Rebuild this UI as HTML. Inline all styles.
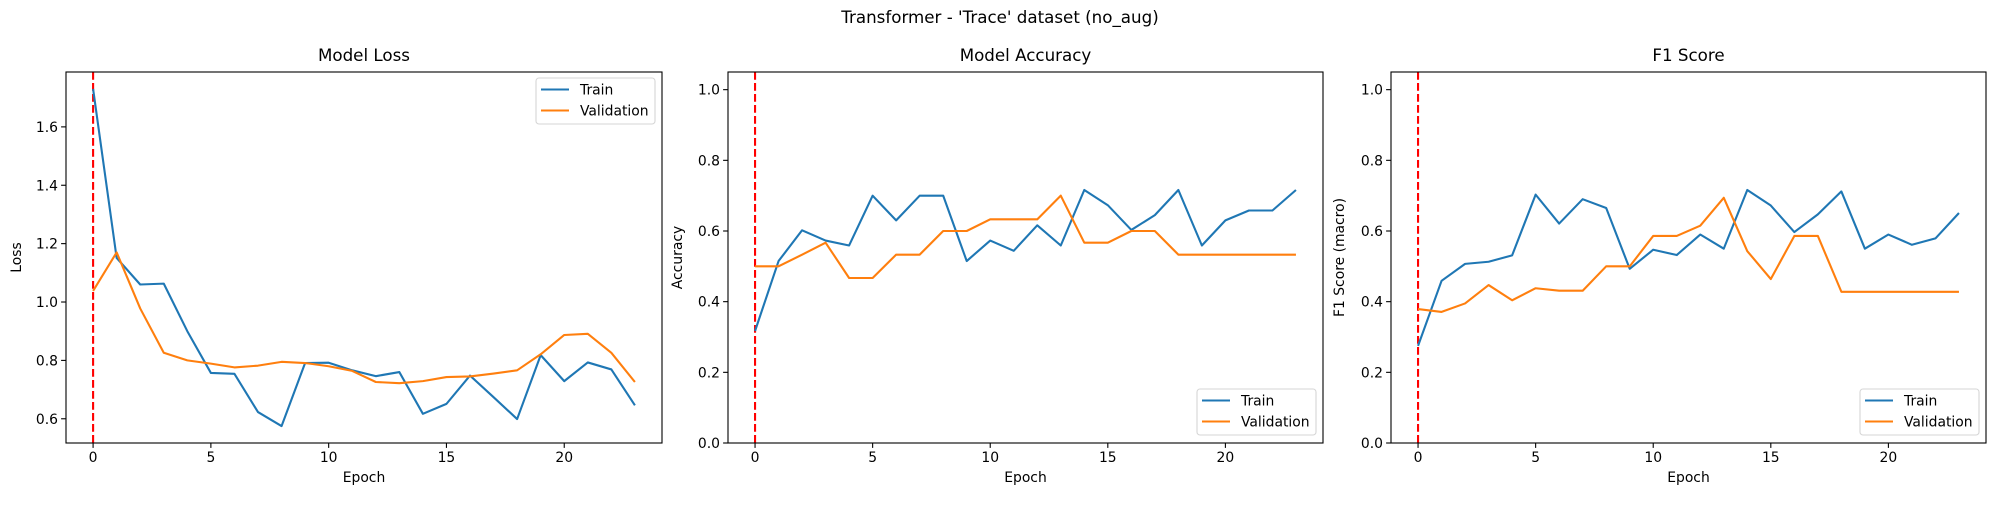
<!DOCTYPE html>
<html><head><meta charset="utf-8"><style>
body{margin:0;background:#fff;}
svg text{font-family:"DejaVu Sans","Liberation Sans",sans-serif;fill:#000;}
</style></head><body>
<svg id="fig" width="2000" height="500" xmlns="http://www.w3.org/2000/svg">
<rect width="2000" height="500" fill="#fff"/>
<text x="1000" y="23" font-size="16.7" text-anchor="middle">Transformer - 'Trace' dataset (no_aug)</text>
</svg>
<script>
const epochs = [0,1,2,3,4,5,6,7,8,9,10,11,12,13,14,15,16,17,18,19,20,21,22,23];
const trainLoss = [1.73,1.151,1.060,1.063,0.90,0.757,0.754,0.623,0.575,0.791,0.792,0.766,0.746,0.760,0.617,0.651,0.748,0.674,0.599,0.818,0.729,0.793,0.769,0.646];
const valLoss = [1.038,1.17,0.978,0.826,0.80,0.789,0.776,0.782,0.795,0.791,0.780,0.764,0.726,0.722,0.729,0.743,0.745,0.755,0.766,0.821,0.887,0.891,0.826,0.726];
const trainAcc = [0.317,0.515,0.602,0.573,0.559,0.70,0.63,0.70,0.70,0.515,0.573,0.544,0.616,0.559,0.716,0.673,0.603,0.645,0.716,0.559,0.63,0.658,0.658,0.716];
const valAcc = [0.5,0.5,0.533,0.567,0.467,0.467,0.533,0.533,0.6,0.6,0.633,0.633,0.633,0.7,0.567,0.567,0.6,0.6,0.533,0.533,0.533,0.533,0.533,0.533];
const trainF1 = [0.275,0.459,0.507,0.513,0.531,0.703,0.621,0.69,0.665,0.493,0.547,0.532,0.59,0.55,0.716,0.672,0.597,0.647,0.712,0.55,0.59,0.561,0.579,0.651];
const valF1 = [0.379,0.371,0.395,0.447,0.404,0.438,0.431,0.431,0.5,0.5,0.586,0.586,0.615,0.694,0.543,0.464,0.586,0.586,0.428,0.428,0.428,0.428,0.428,0.428];
const xTicks = [0,5,10,15,20];
const lossTicks = [0.6,0.8,1.0,1.2,1.4,1.6];
const unitTicks = [0.0,0.2,0.4,0.6,0.8,1.0];

const NS = "http://www.w3.org/2000/svg";
const svg = document.getElementById('fig');
function mk(tag, attrs, parent){const e=document.createElementNS(NS,tag);for(const k in attrs)e.setAttribute(k,attrs[k]);(parent||svg).appendChild(e);return e;}

function panel(key, left, right, title, ylabel, ylabX, yTicks, ymin, ymax, tr, va, legendPos){
  const top=72,bottom=443;
  const g=mk('g',{});
  
  
  const xmin=-1.15,xmax=24.15;
  const X=v=>left+(v-xmin)/(xmax-xmin)*(right-left);
  const Y=v=>bottom-(v-ymin)/(ymax-ymin)*(bottom-top);
  const t=mk('text',{x:(left+right)/2,y:61,'font-size':'16.7','text-anchor':'middle'},g);
  t.textContent=title;
  
  
  xTicks.forEach(v=>{
    mk('line',{x1:X(v),x2:X(v),y1:bottom,y2:bottom+4.9,stroke:'#000','stroke-width':1.1},g);
    const l=mk('text',{x:X(v),y:bottom+19,'font-size':'13.9','text-anchor':'middle'},g);
    l.textContent=v;
    
    
  });
  yTicks.forEach(v=>{
    mk('line',{x1:left-4.9,x2:left,y1:Y(v),y2:Y(v),stroke:'#000','stroke-width':1.1},g);
    const l=mk('text',{x:left-8,y:Y(v)+5,'font-size':'13.9','text-anchor':'end'},g);
    l.textContent=v.toFixed(1);
    
    
  });
  const xl=mk('text',{x:(left+right)/2,y:482,'font-size':'13.9','text-anchor':'middle'},g);
  xl.textContent='Epoch';
  
  
  const cy=(top+bottom)/2;
  const yl=mk('text',{x:ylabX,y:cy,'font-size':'13.9','text-anchor':'middle',transform:`rotate(-90 ${ylabX} ${cy})`},g);
  yl.textContent=ylabel;
  
  
  const vl=mk('line',{x1:X(0),x2:X(0),y1:top,y2:bottom,stroke:'#ff0000','stroke-width':2.1,'stroke-dasharray':'7.7 3.3'},g);
  
  
  const p1=mk('polyline',{points:epochs.map((e,i)=>X(e)+','+Y(tr[i])).join(' '),fill:'none',stroke:'#1f77b4','stroke-width':2.1,'stroke-linejoin':'round'},g);
  
  
  const p2=mk('polyline',{points:epochs.map((e,i)=>X(e)+','+Y(va[i])).join(' '),fill:'none',stroke:'#ff7f0e','stroke-width':2.1,'stroke-linejoin':'round'},g);
  
  
  mk('rect',{x:left,y:top,width:right-left,height:bottom-top,fill:'none',stroke:'#000','stroke-width':1.1},g);
  // legend
  const lw=119,lh=46;
  const lx=right-7-lw;
  const ly=legendPos==='upper'?top+6:bottom-8-lh;
  const lg=mk('g',{},g);
  
  
  mk('rect',{x:lx,y:ly,width:lw,height:lh,rx:3,fill:'#fff','fill-opacity':0.8,stroke:'#d6d6d6','stroke-width':1.1},lg);
  [['Train','#1f77b4'],['Validation','#ff7f0e']].forEach((s,i)=>{
    const yy=ly+11.5+i*21;
    mk('line',{x1:lx+5,x2:lx+33,y1:yy,y2:yy,stroke:s[1],'stroke-width':2.1},lg);
    const tt=mk('text',{x:lx+44,y:yy+5,'font-size':'13.9'},lg);
    tt.textContent=s[0];
    
    
  });
}
panel('loss',66,662,'Model Loss','Loss',21,lossTicks,0.517,1.788,trainLoss,valLoss,'upper');
panel('accuracy',728,1323,'Model Accuracy','Accuracy',682,unitTicks,0,1.05,trainAcc,valAcc,'lower');
panel('f1',1391,1986,'F1 Score','F1 Score (macro)',1344,unitTicks,0,1.05,trainF1,valF1,'lower');
</script>
</body></html>
